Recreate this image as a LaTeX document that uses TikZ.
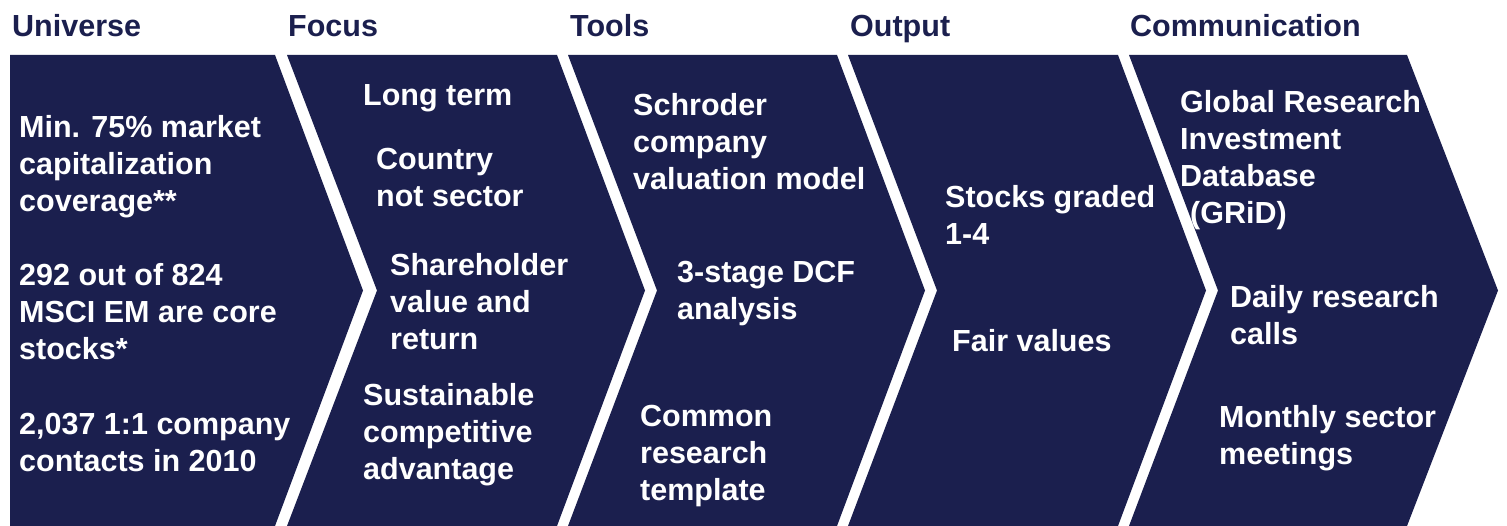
\documentclass[tikz,border=0pt]{standalone}
\usepackage{fontspec}
\setmainfont{Liberation Sans}
\definecolor{navy}{RGB}{27,31,78}
\newcommand\bodyfont{\fontsize{30.5}{37}\selectfont\bfseries}
\tikzset{
  chev/.style={fill=navy, draw=none},
  txt/.style={anchor=north west, inner sep=0pt, align=left, text=white, font=\bodyfont, execute at begin node=\strut, yshift=-5pt},
  hdr/.style={anchor=north west, inner sep=0pt, align=left, text=navy, font=\bodyfont, execute at begin node=\strut, yshift=-1pt}
}
\begin{document}
\begin{tikzpicture}[x=1pt,y=-1pt]
\useasboundingbox (0,0) rectangle (1507,526);
% chevrons
\fill[chev] (10,55) -- (275,55) -- (363,290.5) -- (275,526) -- (10,526) -- cycle;
\fill[chev] (287,55) -- (557,55) -- (645,290.5) -- (557,526) -- (287,526) -- (377,290.5) -- cycle;
\fill[chev] (568,55) -- (837,55) -- (925,290.5) -- (837,526) -- (568,526) -- (657,290.5) -- cycle;
\fill[chev] (848,55) -- (1118,55) -- (1206,290.5) -- (1118,526) -- (848,526) -- (937,290.5) -- cycle;
\fill[chev] (1129,55) -- (1407,55) -- (1498,290.5) -- (1407,526) -- (1129,526) -- (1218,290.5) -- cycle;
% headers
\node[hdr] (h1) at (12,35-25.9) {Universe};
\node[hdr] (h2) at (288,35-25.9) {Focus};
\node[hdr] (h3) at (570,35-25.9) {Tools};
\node[hdr] (h4) at (850,35-25.9) {Output};
\node[hdr] (h5) at (1130,35-25.9) {Communication};
% universe
\node[txt] (u1) at (19,136-25.9) {Min. 75\% market\\capitalization\\coverage**};
\node[txt] (u2) at (19,284-25.9) {292 out of 824\\MSCI EM are core\\stocks*};
\node[txt] (u3) at (19,434-25.9) {2,037 1:1 company\\contacts in 2010};
% focus
\node[txt] (f1) at (363,100-25.9) {Long term};
\node[txt] (f2) at (376,169-25.9) {Country\\not sector};
\node[txt] (f3) at (390,274-25.9) {Shareholder\\value and\\return};
\node[txt] (f4) at (363,404-25.9) {Sustainable\\competitive\\advantage};
% tools
\node[txt] (t1) at (633,114-25.9) {Schroder\\company\\valuation model};
\node[txt] (t2) at (677,282-25.9) {3-stage DCF\\analysis};
\node[txt] (t3) at (640,426-25.9) {Common\\research\\template};
% output
\node[txt] (o1) at (945,206-25.9) {Stocks graded\\1-4};
\node[txt] (o2) at (952,346-25.9) {Fair values};
% communication
\node[txt] (c1) at (1180,111-25.9) {Global Research\\Investment\\Database\\\hspace*{10pt}(GRiD)};
\node[txt] (c2) at (1230,306-25.9) {Daily research\\calls};
\node[txt] (c3) at (1219,426-25.9) {Monthly sector\\meetings};
\end{tikzpicture}
\end{document}
